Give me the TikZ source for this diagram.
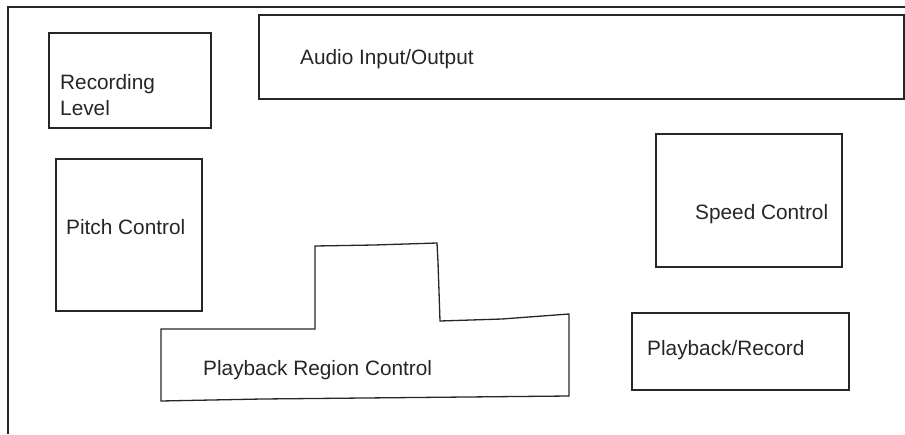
\documentclass[tikz,border=0pt]{standalone}
\usepackage{fontspec}
\setmainfont{Liberation Sans}
\tikzset{
  panel/.style={draw=black!85, line width=1.3pt},
  lbl/.style={anchor=base west, inner sep=0pt, font=\fontsize{20.8}{26}\selectfont, text=black!85}
}
\begin{document}
\begin{tikzpicture}[x=1pt,y=-1pt]
  \useasboundingbox (0,0) rectangle (905,434);
  % outer frame (left and top edges)
  \coordinate (fb) at (8,434);
  \coordinate (ftl) at (8,7);
  \coordinate (fr) at (905,7);
  \draw[panel] (fb) -- (ftl) -- (fr);

  % panels
  \draw[panel] (49,33) rectangle (211,128);
  \draw[panel] (259,15) rectangle (904,99);
  \draw[panel] (56,159) rectangle (202,311);
  \draw[panel] (656,134) rectangle (842,267);
  \draw[panel] (632,313) rectangle (849,390);
  \draw[panel] (161,401) -- (161,329) -- (315,329) -- (315,246) -- (374,245)
    -- (437,243) -- (438,262) -- (440,321) -- (502,319) -- (569,314)
    -- (569,396) -- (466,397) -- (262,399) -- cycle;

  % labels
  \node[lbl] (rec) at (60,89) {Recording};
  \node[lbl] (lev) at (60,115) {Level};
  \node[lbl] (aio) at (300,64) {Audio Input/Output};
  \node[lbl] (pit) at (66,234) {Pitch Control};
  \node[lbl] (spd) at (695,219) {Speed Control};
  \node[lbl] (prc) at (647,355) {Playback/Record};
  \node[lbl] (reg) at (203,375) {Playback Region Control};
\end{tikzpicture}
\end{document}
